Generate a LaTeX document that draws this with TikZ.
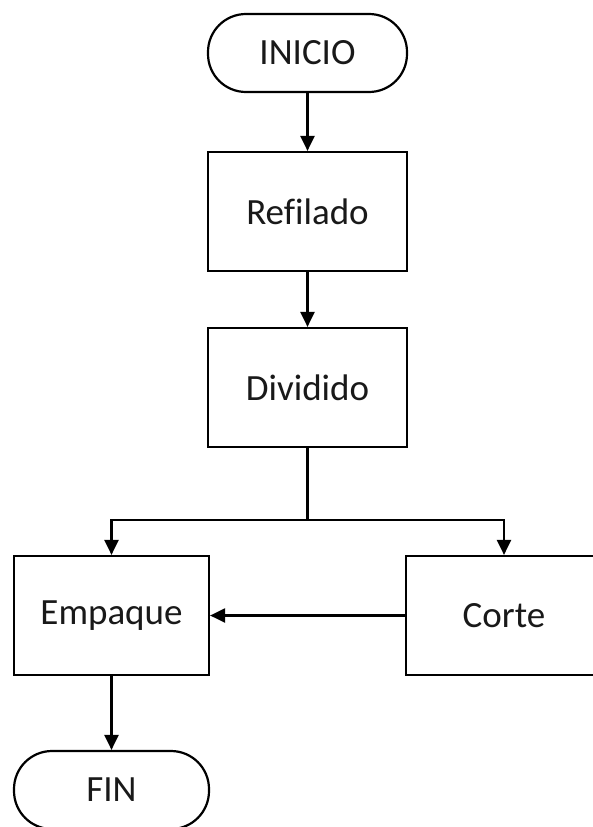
\documentclass[tikz,border=0pt]{standalone}
\usepackage{fontspec}
\setmainfont[Ligatures=NoCommon]{Carlito}
\usetikzlibrary{arrows.meta}
\begin{document}
\begin{tikzpicture}[x=1pt,y=1pt,
  every node/.style={font=\fontsize{37}{42}\selectfont, text=black!90},
  procbox/.style={draw, line width=2.2pt, rectangle, inner sep=0pt,
    minimum height=119pt},
  termbox/.style={draw, line width=2.2pt, rectangle, rounded corners=38pt,
    inner sep=0pt, minimum height=78pt},
  flow/.style={line width=2.2pt, -{Triangle[length=15pt,width=14pt]}},
  link/.style={line width=2.2pt}]
  \useasboundingbox (0,0) rectangle (592,-827);
  \fill[white] (0,0) rectangle (592,-827);

  \node[termbox, minimum width=199pt] (inicio) at (307.5,-53) {INICIO};
  % f and i kept apart (no fi ligature)
  \node[procbox, minimum width=199pt] (refilado) at (307.5,-211.5) {Ref\kern0pt ilado};
  \node[procbox, minimum width=199pt] (dividido) at (307.5,-387.5) {Dividido};
  \node[procbox, minimum width=195pt] (empaque) at (111.5,-615.5) {Empaque};
  \node[procbox, minimum width=196pt] (corte) at (504,-615.5) {Corte};
  \node[termbox, minimum width=195pt] (fin) at (111.5,-790) {FIN};

  \coordinate (split) at (307.5,-520);

  \draw[flow] (inicio) -- (refilado);
  \draw[flow] (refilado) -- (dividido);
  \draw[link] (dividido) -- (split);
  \draw[flow] (split) -| (empaque.north);
  \draw[flow] (split) -| (corte.north);
  \draw[flow] (corte.west) -- (empaque.east);
  \draw[flow] (empaque) -- (fin);
\end{tikzpicture}
\end{document}
